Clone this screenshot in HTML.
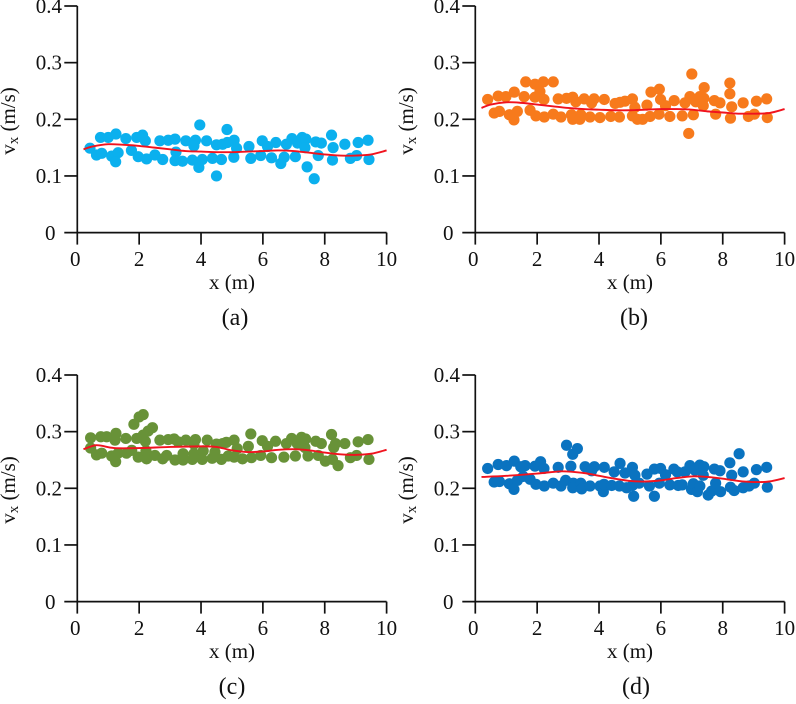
<!DOCTYPE html>
<html lang="en">
<head>
<meta charset="utf-8">
<title>Velocity scatter panels</title>
<style>
html,body{margin:0;padding:0;background:#fff;width:796px;height:704px;overflow:hidden}
svg{display:block}
text{font-family:"Liberation Serif","Times New Roman",serif;fill:#111;font-size:21px}
</style>
</head>
<body>
<svg id="chart" xmlns="http://www.w3.org/2000/svg" width="796" height="704" viewBox="0 0 796 704"></svg>
<script>
const xTickValues = [0, 2, 4, 6, 8, 10];
const xTickLabels = ["0", "2", "4", "6", "8", "10"];
const yTickValues = [0, 0.1, 0.2, 0.3, 0.4];
const yTickLabels = ["0", "0.1", "0.2", "0.3", "0.4"];

const xA = [.41,.75,1.0,1.25,1.57,1.92,2.11,2.2,2.67,2.94,3.16,3.51,3.82,3.77,4.18,4.5,4.7,4.85,4.84,3.96,5.07,5.15,5.55,5.98,6.15,6.42,6.76,6.94,7.12,7.27,7.39,7.36,7.71,7.89,8.22,8.27,8.65,9.08,9.4,
 .62,.79,1.11,1.32,1.24,1.75,1.97,2.24,2.51,2.76,3.19,3.16,3.4,3.72,3.93,4.04,4.37,4.5,4.66,5.06,5.61,5.93,6.28,6.58,6.69,7.05,7.43,7.66,7.79,8.25,8.83,9.03,9.43];
const vA = [.149,.168,.168,.174,.166,.168,.172,.162,.162,.163,.165,.162,.163,.153,.162,.155,.156,.159,.182,.19,.163,.149,.152,.162,.152,.159,.156,.166,.158,.168,.165,.15,.16,.158,.172,.15,.156,.159,.163,
 .137,.14,.135,.141,.125,.145,.134,.13,.137,.129,.142,.127,.126,.128,.115,.129,.131,.1,.129,.133,.131,.136,.132,.122,.133,.134,.116,.095,.136,.128,.131,.136,.129];
const curveXA = [.2,.5,1,1.5,2,2.5,3,3.5,4,4.5,5,5.5,6,6.5,7,7.5,8,8.5,9,9.5,10];
const curveVA = [.147,.152,.156,.155,.153,.15,.147,.144,.143,.142,.142,.143,.144,.145,.144,.141,.138,.136,.136,.138,.145];

const xB = [.4,.74,.99,1.26,1.58,1.63,1.93,2.2,2.52,2.09,1.93,2.22,2.68,2.95,3.15,3.25,3.52,3.84,3.76,4.17,4.52,4.68,4.84,5.08,5.16,5.55,5.68,5.95,5.99,6.15,6.43,6.78,6.94,7.0,7.13,7.26,7.4,7.39,7.37,7.73,7.91,8.23,8.23,8.29,8.66,9.09,9.42,
 .61,.78,1.1,1.25,1.36,1.77,1.96,2.23,2.52,2.77,3.11,3.15,3.41,3.38,3.71,4.03,4.38,4.66,5.08,5.24,5.41,5.65,5.94,6.29,6.69,6.9,7.05,7.77,8.25,8.83,9.02,9.44];
const vB = [.235,.241,.24,.248,.24,.266,.262,.266,.266,.249,.239,.235,.236,.237,.239,.231,.236,.236,.229,.235,.228,.23,.232,.236,.221,.225,.248,.253,.235,.224,.233,.229,.24,.28,.231,.24,.256,.237,.224,.233,.229,.264,.245,.222,.229,.232,.236,
 .211,.214,.208,.199,.214,.216,.206,.204,.209,.204,.208,.2,.208,.2,.204,.203,.205,.204,.206,.2,.2,.205,.209,.205,.206,.175,.208,.209,.202,.205,.209,.203];
const curveXB = [.2,.5,1,1.5,2,2.5,3,3.5,4,4.5,5,5.5,6,6.5,7,7.5,8,8.5,9,9.5,10];
const curveVB = [.22,.226,.23,.229,.226,.223,.22,.218,.217,.216,.216,.217,.218,.218,.217,.214,.212,.21,.21,.211,.218];

const xC = [.43,.76,.95,1.25,1.22,1.57,1.83,2.0,2.13,2.29,2.43,1.92,2.13,2.2,2.67,2.94,3.13,3.26,3.51,3.82,3.77,4.2,4.5,4.7,4.82,5.07,5.17,5.53,5.61,5.98,6.15,6.41,6.76,6.93,7.11,7.25,7.38,7.36,7.71,7.89,8.22,8.29,8.35,8.65,9.08,9.4,
 .43,.62,.79,1.11,1.24,1.32,1.59,1.76,1.97,2.24,2.22,2.51,2.76,2.89,3.16,3.42,3.42,3.72,3.77,4.04,4.07,4.36,4.45,4.66,4.88,5.07,5.34,5.63,5.93,6.28,6.68,7.05,7.46,7.79,8.02,8.25,8.43,8.83,9.03,9.43];
const vC = [.289,.291,.291,.297,.285,.288,.313,.326,.33,.301,.307,.288,.294,.283,.285,.286,.287,.282,.285,.286,.278,.285,.278,.279,.281,.285,.27,.274,.296,.284,.274,.283,.279,.288,.279,.29,.287,.272,.283,.279,.295,.272,.279,.279,.282,.286,
 .271,.259,.262,.257,.247,.262,.262,.267,.255,.252,.266,.258,.252,.258,.25,.261,.25,.251,.261,.251,.266,.253,.264,.251,.257,.255,.252,.254,.258,.254,.255,.257,.257,.258,.248,.251,.24,.254,.258,.251];
const curveXC = [.2,.4,.6,.8,1.2,2,3,4,4.5,5,5.5,6,6.5,7,7.5,8,8.5,9,9.5,10];
const curveVC = [.269,.273,.276,.275,.271,.271,.273,.274,.273,.267,.264,.265,.268,.269,.267,.263,.26,.259,.261,.268];

const xD = [.4,.74,1.01,1.26,1.47,1.61,1.93,2.11,2.22,2.68,2.95,3.15,3.3,3.09,3.55,3.85,3.76,4.17,4.49,4.68,4.84,5.08,5.16,5.55,5.79,5.99,6.15,6.42,6.53,6.78,6.94,7.1,7.26,7.39,7.37,7.73,7.91,8.23,8.29,8.53,8.66,9.09,9.42,
 .61,.78,1.1,1.25,1.36,1.55,1.77,1.96,2.23,2.52,2.77,2.92,3.17,3.15,3.41,3.44,3.71,4.03,4.14,4.16,4.41,4.66,4.89,5.08,5.12,5.3,5.63,5.79,5.95,6.29,6.56,6.69,6.99,7.05,7.18,7.26,7.53,7.64,7.77,7.93,8.25,8.37,8.66,8.85,9.02,9.44];
const vD = [.235,.242,.24,.248,.238,.24,.239,.247,.235,.237,.276,.26,.27,.239,.238,.238,.231,.237,.229,.244,.227,.237,.223,.225,.234,.235,.224,.234,.229,.229,.24,.232,.241,.238,.223,.234,.231,.245,.223,.261,.229,.233,.237,
 .211,.212,.208,.198,.214,.221,.216,.207,.204,.209,.204,.214,.209,.201,.209,.199,.204,.204,.194,.207,.205,.204,.201,.205,.186,.209,.204,.186,.209,.206,.205,.206,.198,.208,.194,.204,.188,.195,.209,.194,.202,.196,.201,.204,.209,.202];
const curveXD = [.2,1,2,2.8,3.5,4,4.5,5,5.5,6,6.5,7,7.5,8,8.5,9,9.5,10];
const curveVD = [.22,.222,.226,.23,.227,.222,.217,.213,.212,.214,.218,.221,.22,.217,.213,.211,.212,.218];

const NS = "http://www.w3.org/2000/svg";
const root = document.getElementById("chart");

function make(parent, tag, attrs, txt) {
  const el = document.createElementNS(NS, tag);
  for (const k in attrs) el.setAttribute(k, attrs[k]);
  if (txt !== undefined) el.textContent = txt;
  parent.appendChild(el);
  return el;
}

function drawPanel(id, caption, capX, dx, dy, xs, vs, cx, cv, color) {
  const xScale = x => 77.3 + dx + x * 30.93;
  const yScale = v => 232.6 + dy - v * 566.5;
  const g = make(root, "g", {});
  
  

  const points = make(g, "g", {fill: color});
  
  
  xs.forEach((x, i) => {
    const c = make(points, "circle", {cx: xScale(x).toFixed(2), cy: yScale(vs[i]).toFixed(2), r: 5.6});
    
    
  });

  const pts = cx.map((x, i) => [xScale(x), yScale(cv[i])]);
  let d = "M" + pts[0][0].toFixed(2) + " " + pts[0][1].toFixed(2);
  for (let i = 0; i < pts.length - 1; i++) {
    const p0 = pts[Math.max(i - 1, 0)], p1 = pts[i], p2 = pts[i + 1], p3 = pts[Math.min(i + 2, pts.length - 1)];
    d += " C" + (p1[0] + (p2[0] - p0[0]) / 6).toFixed(2) + " " + (p1[1] + (p2[1] - p0[1]) / 6).toFixed(2) +
         " " + (p2[0] - (p3[0] - p1[0]) / 6).toFixed(2) + " " + (p2[1] - (p3[1] - p1[1]) / 6).toFixed(2) +
         " " + p2[0].toFixed(2) + " " + p2[1].toFixed(2);
  }
  const curve = make(g, "path", {d: d, fill: "none", stroke: "#f0131e", "stroke-width": 1.9});
  
  

  const axisStyle = {stroke: "#111", "stroke-width": 1.7, fill: "none"};
  const yAxis = make(g, "line", Object.assign({x1: xScale(0), x2: xScale(0), y1: yScale(0.4), y2: yScale(0)}, axisStyle));
  
  
  const xAxis = make(g, "line", Object.assign({x1: xScale(0) - 13, x2: xScale(10), y1: yScale(0), y2: yScale(0)}, axisStyle));
  
  

  xTickValues.forEach((t, i) => {
    const tick = make(g, "line", Object.assign({x1: xScale(t), x2: xScale(t), y1: yScale(0), y2: yScale(0) + 12}, axisStyle));
    
    
    const shift = t === 0 ? -2 : 0;
    const label = make(g, "text", {x: xScale(t) + shift, y: 266 + dy, "text-anchor": "middle"}, xTickLabels[i]);
    
    
  });

  yTickValues.forEach((t, i) => {
    if (t !== 0) {
      const tick = make(g, "line", Object.assign({x1: xScale(0) - 13, x2: xScale(0), y1: yScale(t), y2: yScale(t)}, axisStyle));
      
      
    }
    const right = t === 0 ? 55.5 : 62;
    const label = make(g, "text", {x: right + dx, y: yScale(t) + (t === 0 ? 7.5 : 7), "text-anchor": "end"}, yTickLabels[i]);
    
    
  });

  const xTitle = make(g, "text", {x: 232 + dx, y: 289 + dy, "text-anchor": "middle"}, "x (m)");
  
  

  const yTitle = make(g, "text", {transform: "translate(" + (15 + dx) + " " + (121 + dy) + ") rotate(-90)", "text-anchor": "middle"});
  
  
  make(yTitle, "tspan", {}, "v");
  make(yTitle, "tspan", {dy: 3, style: "font-size:15px"}, "x");
  make(yTitle, "tspan", {dy: -3}, " (m/s)");

  const cap = make(g, "text", {x: capX, y: 325 + dy, "text-anchor": "middle", style: "font-size:24px"}, caption);
  
  
}

drawPanel("a", "(a)", 235, 0, 0, xA, vA, curveXA, curveVA, "#0bb0ee");
drawPanel("b", "(b)", 634, 398, 0, xB, vB, curveXB, curveVB, "#f77a1c");
drawPanel("c", "(c)", 232, 0, 369, xC, vC, curveXC, curveVC, "#689238");
drawPanel("d", "(d)", 636, 398, 369, xD, vD, curveXD, curveVD, "#0a73c0");
</script>
</body>
</html>
